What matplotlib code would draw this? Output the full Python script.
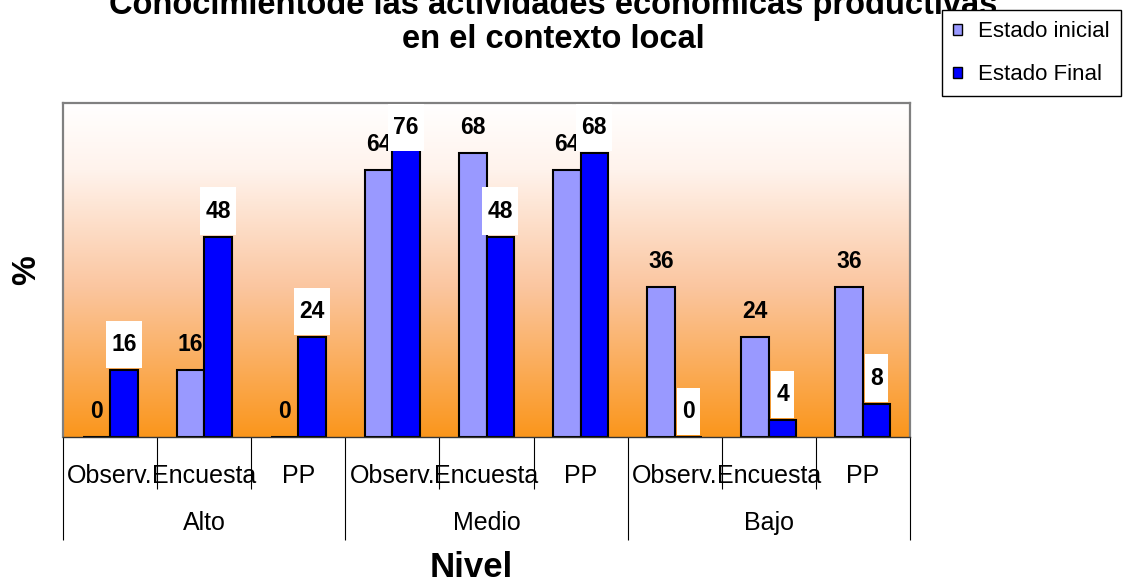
import matplotlib
matplotlib.use("Agg")
import matplotlib.pyplot as plt
import numpy as np
from matplotlib.patches import Patch
from matplotlib.path import Path
from matplotlib.colors import LinearSegmentedColormap

plt.rcParams['font.family'] = ['Liberation Sans', 'DejaVu Sans']

# ---- data ----
groups = ['Alto', 'Medio', 'Bajo']
methods = ['Observ.', 'Encuesta', 'PP']
estado_inicial = [0, 16, 0, 64, 68, 64, 36, 24, 36]
estado_final = [16, 48, 24, 76, 48, 68, 0, 4, 8]
series_names = ['Estado inicial', 'Estado Final']
title_lines = ['Conocimientode las actividades económicas productivas',
               'en el contexto local']
x_title = 'Nivel'
y_title = '%'

# ---- layout ----
W, H = 1125, 583
fig = plt.figure(figsize=(W / 100, H / 100), dpi=100)
ax = fig.add_axes([63 / W, 1 - 437 / H, (910 - 63) / W, (437 - 103) / H])

n = len(estado_inicial)
x = np.arange(n)
bw = 0.292
ymax = 80
ax.set_xlim(-0.5, n - 0.5)
ax.set_ylim(0, ymax)

# plot-area gradient: white at the top fading to orange at the base
bg = LinearSegmentedColormap.from_list(
    'bg', [(0.0, '#FA961C'), (0.45, '#FBC6A0'), (0.8, '#FFF3EC'), (1.0, '#FFFFFF')])
grad = np.linspace(0, 1, 256).reshape(-1, 1)
ax.imshow(grad, cmap=bg, origin='lower', aspect='auto',
          extent=(-0.5, n - 0.5, 0, ymax), zorder=0)

ax.bar(x - bw / 2, estado_inicial, bw, color='#9999FF', edgecolor='black',
       linewidth=1.5, zorder=2)
ax.bar(x + bw / 2, estado_final, bw, color='#0000FF', edgecolor='black',
       linewidth=1.5, zorder=2)


def label_box(x0, y0, width, height, mutation_size):
    px = 0.23 * mutation_size
    pt = 0.53 * mutation_size
    pb = 0.53 * mutation_size
    verts = [(x0 - px, y0 - pb), (x0 + width + px, y0 - pb),
             (x0 + width + px, y0 + height + pt), (x0 - px, y0 + height + pt),
             (x0 - px, y0 - pb)]
    return Path(verts, closed=True)


# value labels sit above the bar, kept inside the plot area
label_gap = 19 / (334 / ymax)
label_ceiling = 72.5
for xi, v in zip(x - bw / 2, estado_inicial):
    ax.text(xi, min(v + label_gap, label_ceiling), f'{v}', ha='center',
            va='baseline', fontsize=16.5, fontweight='bold', zorder=4)
for xi, v in zip(x + bw / 2, estado_final):
    ax.text(xi, min(v + label_gap, label_ceiling), f'{v}', ha='center',
            va='baseline', fontsize=16.5, fontweight='bold', zorder=5,
            bbox=dict(boxstyle=label_box, fc='white', ec='none'))

# frame
for side in ('left', 'top', 'right'):
    ax.spines[side].set_color('#808080')
    ax.spines[side].set_linewidth(1.6)
ax.spines['bottom'].set_color('#333333')
ax.spines['bottom'].set_linewidth(1.0)
ax.set_yticks([])

# category table below the axis: long ticks split groups, short ticks split methods
edges = np.arange(n + 1) - 0.5
group_edges = edges[::len(methods)]
ax.set_xticks(group_edges)
ax.set_xticks([e for e in edges if e not in group_edges], minor=True)
ax.tick_params(axis='x', which='major', length=74, width=0.8, color='black',
               direction='out', labelbottom=False)
ax.tick_params(axis='x', which='minor', length=37.5, width=0.8, color='black',
               direction='out', labelbottom=False)

for i in range(n):
    ax.annotate(methods[i % len(methods)], xy=(i, 0),
                xycoords=('data', 'axes fraction'), xytext=(0, -33),
                textcoords='offset points', ha='center', va='baseline',
                fontsize=18)
for g, name in enumerate(groups):
    centre = g * len(methods) + (len(methods) - 1) / 2
    ax.annotate(name, xy=(centre, 0), xycoords=('data', 'axes fraction'),
                xytext=(0, -67), textcoords='offset points', ha='center',
                va='baseline', fontsize=18)

# titles
fig.text(553 / W, 1 - 14 / H, title_lines[0], ha='center', va='baseline',
         fontsize=23.5, fontweight='bold')
fig.text(553 / W, 1 - 48 / H, title_lines[1], ha='center', va='baseline',
         fontsize=23.5, fontweight='bold')
fig.text(471 / W, 1 - 577 / H, x_title, ha='center', va='baseline',
         fontsize=25, fontweight='bold')
fig.text(27 / W, 1 - 270 / H, y_title, ha='center', va='center',
         rotation=90, fontsize=24, fontweight='bold')

# legend
handles = [Patch(facecolor='#9999FF', edgecolor='black', linewidth=1),
           Patch(facecolor='#0000FF', edgecolor='black', linewidth=1)]
leg = fig.legend(handles, series_names, loc='upper left',
                 bbox_to_anchor=(942 / W, 1 - 10 / H), frameon=True,
                 fancybox=False, edgecolor='black', framealpha=1,
                 fontsize=16, handlelength=0.38, handleheight=0.38,
                 handletextpad=0.75, labelspacing=1.0, borderpad=0.5,
                 borderaxespad=0)
leg.get_frame().set_linewidth(1)

fig.savefig('out.png', dpi=100)
